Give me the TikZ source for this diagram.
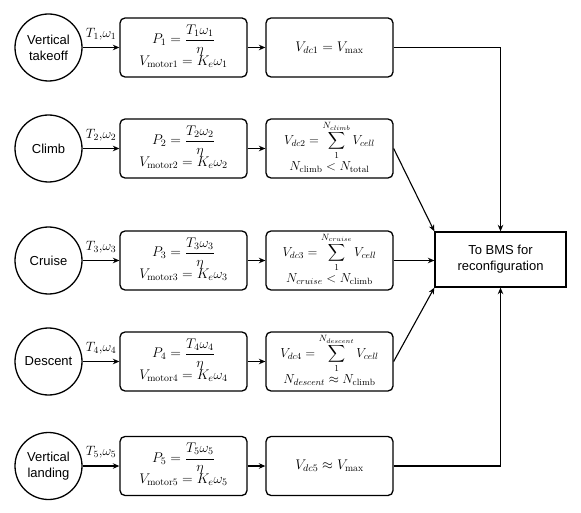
\RequirePackage{fix-cm}
\documentclass[tikz,border=0pt]{standalone}
\usepackage{amsmath}
\usepackage{fontspec}
\setsansfont{Liberation Sans}
\usetikzlibrary{arrows.meta}

\tikzset{
  phase/.style={draw, circle, line width=1.3pt, minimum size=67pt, inner sep=0pt,
    align=center, font=\sffamily\fontsize{13}{16}\selectfont},
  calcbox/.style={draw, rounded corners=5pt, line width=1.3pt,
    minimum width=127pt, minimum height=59pt, inner sep=0pt},
  bigbox/.style={calcbox, font=\fontsize{14}{17}\selectfont},
  bmsbox/.style={draw, line width=1.3pt, minimum width=131pt, minimum height=55pt,
    align=center, font=\sffamily\fontsize{13}{16}\selectfont},
  flow/.style={line width=1.1pt, -{Stealth[length=6.5pt,width=5.5pt]}},
  lbl/.style={above, inner sep=2pt, yshift=5pt, font=\fontsize{13.5}{16}\selectfont}
}

\begin{document}
\begin{tikzpicture}[x=1pt, y=-1pt, font=\fontsize{13}{16}\selectfont]
\useasboundingbox (0,0) rectangle (581,513);

% flight phases
\node[phase] (ph1) at (48.5,47.5) {Vertical\\takeoff};
\node[phase] (ph2) at (48.5,148.5) {Climb};
\node[phase] (ph3) at (48.5,260.5) {Cruise};
\node[phase] (ph4) at (48.5,361.5) {Descent};
\node[phase] (ph5) at (48.5,466) {Vertical\\landing};

% power and motor voltage
\node[bigbox] (pw1) at (183.5,47.5) {
  \begin{tabular}{@{}c@{}}
    $P_1=\dfrac{T_1\omega_1}{\eta}$ \\[-3pt] $V_{\mathrm{motor1}}=K_e\omega_1$
  \end{tabular}
};
\node[bigbox] (pw2) at (183.5,148.5) {
  \begin{tabular}{@{}c@{}}
    $P_2=\dfrac{T_2\omega_2}{\eta}$ \\[-3pt] $V_{\mathrm{motor2}}=K_e\omega_2$
  \end{tabular}
};
\node[bigbox] (pw3) at (183.5,260.5) {
  \begin{tabular}{@{}c@{}}
    $P_3=\dfrac{T_3\omega_3}{\eta}$ \\[-3pt] $V_{\mathrm{motor3}}=K_e\omega_3$
  \end{tabular}
};
\node[bigbox] (pw4) at (183.5,361.5) {
  \begin{tabular}{@{}c@{}}
    $P_4=\dfrac{T_4\omega_4}{\eta}$ \\[-3pt] $V_{\mathrm{motor4}}=K_e\omega_4$
  \end{tabular}
};
\node[bigbox] (pw5) at (183.5,466) {
  \begin{tabular}{@{}c@{}}
    $P_5=\dfrac{T_5\omega_5}{\eta}$ \\[-3pt] $V_{\mathrm{motor5}}=K_e\omega_5$
  \end{tabular}
};

% dc link voltage
\node[bigbox] (vdc1) at (329.5,47.5) {$V_{dc1}=V_{\max}$};
\node[calcbox] (vdc2) at (329.5,148.5) {
  \begin{tabular}{@{}c@{}}
    $V_{dc2}=\displaystyle\sum_{1}^{N_{climb}}V_{cell}$ \\[1pt]
    $N_{\mathrm{climb}}<N_{\mathrm{total}}$
  \end{tabular}
};
\node[calcbox] (vdc3) at (329.5,260.5) {
  \begin{tabular}{@{}c@{}}
    $V_{dc3}=\displaystyle\sum_{1}^{N_{cruise}}V_{cell}$ \\[1pt]
    $N_{cruise}<N_{\mathrm{climb}}$
  \end{tabular}
};
\node[calcbox] (vdc4) at (329.5,361.5) {
  \begin{tabular}{@{}c@{}}
    $V_{dc4}=\displaystyle\sum_{1}^{N_{descent}}V_{cell}$ \\[1pt]
    $N_{descent}\approx N_{\mathrm{climb}}$
  \end{tabular}
};
\node[bigbox] (vdc5) at (329.5,466) {$V_{dc5}\approx V_{\max}$};

\node[bmsbox] (bms) at (500.5,259.5) {To BMS for\\reconfiguration};

% arrows
\draw[flow] (ph1) -- node[lbl] {$T_1{,}\omega_1$} (pw1);
\draw[flow] (ph2) -- node[lbl] {$T_2{,}\omega_2$} (pw2);
\draw[flow] (ph3) -- node[lbl] {$T_3{,}\omega_3$} (pw3);
\draw[flow] (ph4) -- node[lbl] {$T_4{,}\omega_4$} (pw4);
\draw[flow] (ph5) -- node[lbl] {$T_5{,}\omega_5$} (pw5);

\draw[flow] (pw1) -- (vdc1);
\draw[flow] (pw2) -- (vdc2);
\draw[flow] (pw3) -- (vdc3);
\draw[flow] (pw4) -- (vdc4);
\draw[flow] (pw5) -- (vdc5);

\draw[flow] (vdc1.east) -| (bms.north);
\draw[flow] (vdc2.east) -- (bms.north west);
\draw[flow] (vdc3.east) -- (vdc3.east -| bms.west);
\draw[flow] (vdc4.east) -- (bms.south west);
\draw[flow] (vdc5.east) -| (bms.south);
\end{tikzpicture}
\end{document}
